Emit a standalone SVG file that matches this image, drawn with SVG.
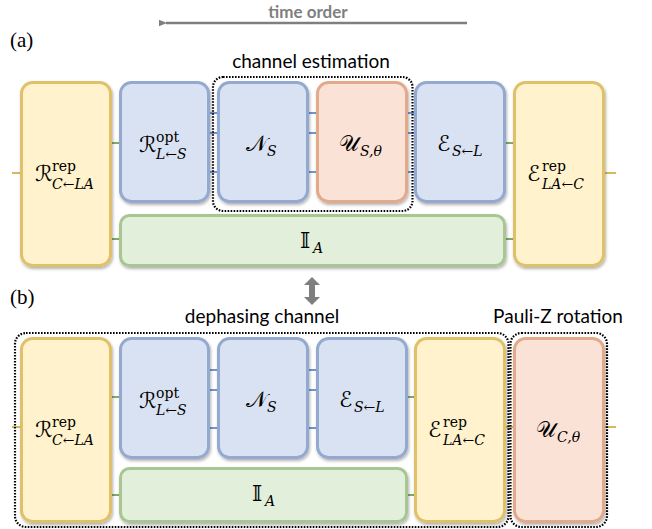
<svg xmlns="http://www.w3.org/2000/svg" width="652" height="529" viewBox="0 0 652 529">
<defs>
<filter id="sh" x="-10%" y="-10%" width="125%" height="125%">
<feDropShadow dx="1" dy="2" stdDeviation="1.5" flood-color="#000" flood-opacity="0.3"/>
</filter>
<marker id="ah" markerWidth="8" markerHeight="8" refX="1" refY="4" orient="auto" markerUnits="userSpaceOnUse">
<path d="M8,0.8 L0,4 L8,7.2 Z" fill="#7f7f7f"/>
</marker>
<style>
.y{fill:#FFF2CC;stroke:#DFC16A;stroke-width:3;filter:url(#sh)}
.b{fill:#D9E2F2;stroke:#93A9CF;stroke-width:3;filter:url(#sh)}
.r{fill:#FBE2D6;stroke:#E2A98B;stroke-width:3;filter:url(#sh)}
.g{fill:#E2EFDA;stroke:#A9C592;stroke-width:3;filter:url(#sh)}
.wb{stroke:#4472C4;stroke-width:1.5}
.wg{stroke:#5B8C3A;stroke-width:1.5}
.wy{stroke:#C9A02A;stroke-width:1.5}
.dot{fill:none;stroke:#000;stroke-width:2.2;stroke-dasharray:1.6 1.4}
.hd{font-family:Lato,"Open Sans",sans-serif;font-size:19px;fill:#000;text-anchor:middle}
.pl{font-family:"Liberation Serif",serif;font-size:21px;fill:#000}
.m{font-family:"DejaVu Serif","DejaVu Sans",serif;font-size:22px;fill:#000}
.s{font-family:"DejaVu Serif","DejaVu Sans",serif;font-size:14px;fill:#000}
.si{font-family:"DejaVu Serif","DejaVu Sans",serif;font-size:14px;font-style:italic;fill:#000}
</style>
</defs>

<text x="308" y="18" style="font-family:Lato,'Open Sans',sans-serif;font-size:17px;font-weight:bold;fill:#7f7f7f;text-anchor:middle">time order</text>
<line x1="467" y1="23" x2="166" y2="23" stroke="#7f7f7f" stroke-width="2.5" marker-end="url(#ah)"/>
<text class="pl" x="10" y="47">(a)</text>
<text class="pl" x="10" y="304">(b)</text>
<text class="hd" x="311" y="68">channel estimation</text>
<text class="hd" x="262" y="323">dephasing channel</text>
<text class="hd" x="558" y="323">Pauli-Z rotation</text>
<path d="M312,277 L320,285 L315,285 L315,297 L320,297 L312,305 L304,297 L309,297 L309,285 L304,285 Z" fill="#7f7f7f"/>

<g id="connectors">
<line class="wy" x1="12" y1="173" x2="20" y2="173"/>
<line class="wy" x1="605" y1="173" x2="616" y2="173"/>
<line class="wg" x1="112" y1="143" x2="119" y2="143"/>
<line class="wg" x1="506" y1="143" x2="513" y2="143"/>
<line class="wg" x1="112" y1="239" x2="119" y2="239"/>
<line class="wg" x1="506" y1="239" x2="513" y2="239"/>
<line class="wb" x1="210" y1="113" x2="217" y2="113"/>
<line class="wb" x1="210" y1="133" x2="217" y2="133"/>
<line class="wb" x1="210" y1="172" x2="217" y2="172"/>
<line class="wb" x1="309" y1="113" x2="316" y2="113"/>
<line class="wb" x1="309" y1="133" x2="316" y2="133"/>
<line class="wb" x1="309" y1="172" x2="316" y2="172"/>
<line class="wb" x1="408" y1="113" x2="414" y2="113"/>
<line class="wb" x1="408" y1="133" x2="414" y2="133"/>
<line class="wb" x1="408" y1="172" x2="414" y2="172"/>

<line class="wy" x1="12" y1="427" x2="20" y2="427"/>
<line class="wy" x1="506" y1="427" x2="513" y2="427"/>
<line class="wy" x1="605" y1="427" x2="616" y2="427"/>
<line class="wg" x1="112" y1="397" x2="119" y2="397"/>
<line class="wg" x1="408" y1="397" x2="414" y2="397"/>
<line class="wg" x1="112" y1="495" x2="119" y2="495"/>
<line class="wg" x1="408" y1="495" x2="414" y2="495"/>
<line class="wb" x1="210" y1="370" x2="217" y2="370"/>
<line class="wb" x1="210" y1="390" x2="217" y2="390"/>
<line class="wb" x1="210" y1="428" x2="217" y2="428"/>
<line class="wb" x1="309" y1="370" x2="316" y2="370"/>
<line class="wb" x1="309" y1="390" x2="316" y2="390"/>
<line class="wb" x1="309" y1="428" x2="316" y2="428"/>
</g>

<g id="a-Rrep">
<rect class="y" x="21.5" y="82.5" width="89" height="183" rx="11"/>
<text class="m" x="35" y="181">ℛ</text>
<text class="s" x="52" y="171">rep</text>
<text class="si" x="52" y="189">C←LA</text>
</g>
<g id="a-Ropt">
<rect class="b" x="120.5" y="82.5" width="88" height="119" rx="11"/>
<text class="m" x="139" y="152">ℛ</text>
<text class="s" x="156" y="142">opt</text>
<text class="si" x="156" y="159">L←S</text>
</g>
<g id="a-NS">
<rect class="b" x="218.5" y="82.5" width="89" height="119" rx="11"/>
<text class="m" x="246" y="151">𝒩</text>
<text class="si" x="267" y="156">S</text>
</g>
<g id="a-US">
<rect class="r" x="317.5" y="82.5" width="89" height="119" rx="11"/>
<text class="m" x="339" y="151">𝒰</text>
<text class="si" x="360" y="156">S,θ</text>
</g>
<g id="a-ES">
<rect class="b" x="415.5" y="82.5" width="89" height="119" rx="11"/>
<text class="m" x="437" y="151">ℰ</text>
<text class="si" x="452" y="156">S←L</text>
</g>
<g id="a-Erep">
<rect class="y" x="514.5" y="82.5" width="89" height="183" rx="11"/>
<text class="m" x="527" y="181">ℰ</text>
<text class="s" x="542" y="171">rep</text>
<text class="si" x="542" y="189">LA←C</text>
</g>
<g id="a-IA">
<rect class="g" x="120.5" y="215.5" width="384" height="50" rx="9"/>
<text class="m" x="300" y="248">𝕀</text>
<text class="si" x="313" y="253">A</text>
</g>
<rect class="dot" x="213" y="77" width="199.5" height="134" rx="10"/>

<g id="b-Rrep">
<rect class="y" x="21.5" y="338.5" width="89" height="183" rx="11"/>
<text class="m" x="35" y="437">ℛ</text>
<text class="s" x="52" y="427">rep</text>
<text class="si" x="52" y="445">C←LA</text>
</g>
<g id="b-Ropt">
<rect class="b" x="120.5" y="338.5" width="88" height="119" rx="11"/>
<text class="m" x="139" y="408">ℛ</text>
<text class="s" x="156" y="398">opt</text>
<text class="si" x="156" y="415">L←S</text>
</g>
<g id="b-NS">
<rect class="b" x="218.5" y="338.5" width="89" height="119" rx="11"/>
<text class="m" x="246" y="407">𝒩</text>
<text class="si" x="267" y="412">S</text>
</g>
<g id="b-ES">
<rect class="b" x="317.5" y="338.5" width="89" height="119" rx="11"/>
<text class="m" x="339" y="407">ℰ</text>
<text class="si" x="354" y="412">S←L</text>
</g>
<g id="b-Erep">
<rect class="y" x="415.5" y="338.5" width="89" height="183" rx="11"/>
<text class="m" x="428" y="437">ℰ</text>
<text class="s" x="443" y="427">rep</text>
<text class="si" x="443" y="445">LA←C</text>
</g>
<g id="b-UC">
<rect class="r" x="514.5" y="338.5" width="89" height="183" rx="11"/>
<text class="m" x="536" y="437">𝒰</text>
<text class="si" x="557" y="442">C,θ</text>
</g>
<g id="b-IA">
<rect class="g" x="120.5" y="468.5" width="286" height="53" rx="9"/>
<text class="m" x="252" y="501">𝕀</text>
<text class="si" x="265" y="506">A</text>
</g>
<rect class="dot" x="15" y="333" width="493.5" height="194" rx="11"/>
<rect class="dot" x="510.5" y="333" width="96.5" height="194" rx="11"/>
</svg>
